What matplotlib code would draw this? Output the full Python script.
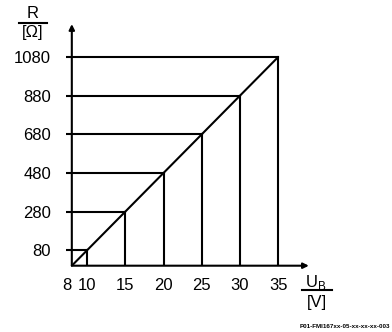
import matplotlib
matplotlib.use("Agg")
import matplotlib.pyplot as plt
from matplotlib.lines import Line2D

plt.rcParams['font.family'] = ['Liberation Sans', 'DejaVu Sans']

# Kennlinie: Bürde R über Versorgungsspannung U_B
u_b = [8, 10, 15, 20, 25, 30, 35]
r_max = [0, 80, 280, 480, 680, 880, 1080]
x_ticks = [8, 10, 15, 20, 25, 30, 35]
y_ticks = [80, 280, 480, 680, 880, 1080]

fig = plt.figure(figsize=(3.92, 3.32), dpi=100)
ax = fig.add_axes([0.1832, 0.1997, 0.6046, 0.7277])
ax.set_xlim(8, 39)
ax.set_ylim(0, 1250)

lw = 1.5
ax.plot(u_b, r_max, color='black', lw=lw, solid_capstyle='butt')
# Hilfslinien zu den Achsen
for u, r in zip(u_b[1:], r_max[1:]):
    ax.plot([u_b[0], u], [r, r], color='black', lw=lw)
    ax.plot([u, u], [r_max[0], r], color='black', lw=lw)

# Achsen mit Pfeilen
for s in ax.spines.values():
    s.set_visible(False)
ax.annotate('', xy=(39, 0), xytext=(8, 0),
            arrowprops=dict(arrowstyle='-|>', color='black', lw=lw,
                            mutation_scale=8, shrinkA=0, shrinkB=0),
            annotation_clip=False)
ax.annotate('', xy=(8, 1250), xytext=(8, 0),
            arrowprops=dict(arrowstyle='-|>', color='black', lw=lw,
                            mutation_scale=8, shrinkA=0, shrinkB=0),
            annotation_clip=False)

ax.set_xticks(x_ticks)
ax.set_xticklabels([str(v) for v in x_ticks])
ax.set_yticks(y_ticks)
ax.set_yticklabels([str(v) for v in y_ticks])
ax.tick_params(axis='x', length=0, pad=9, labelsize=12)
ax.tick_params(axis='y', length=4, width=lw, pad=11, labelsize=12)
ax.get_xticklabels()[0].set_ha('right')

# Achsbeschriftungen als Bruch
fig.text(33 / 392, 1 - 13 / 332, 'R', ha='center', va='center', fontsize=12)
fig.add_artist(Line2D([19 / 392, 47 / 392], [1 - 23 / 332] * 2, color='black', lw=lw))
fig.text(33 / 392, 1 - 33 / 332, '[Ω]', ha='center', va='center', fontsize=12)

fig.text(316 / 392, 1 - 282 / 332, 'U$_\\mathregular{B}$', ha='center', va='center', fontsize=12)
fig.add_artist(Line2D([302 / 392, 332 / 392], [1 - 290 / 332] * 2, color='black', lw=lw))
fig.text(317 / 392, 1 - 302 / 332, '[V]', ha='center', va='center', fontsize=12)

fig.text(0.995, 1 - 327 / 332, 'P01-FMI167xx-05-xx-xx-xx-003', ha='right', va='center',
         fontsize=4.5, fontweight='bold')

fig.savefig('out.png', dpi=100)
